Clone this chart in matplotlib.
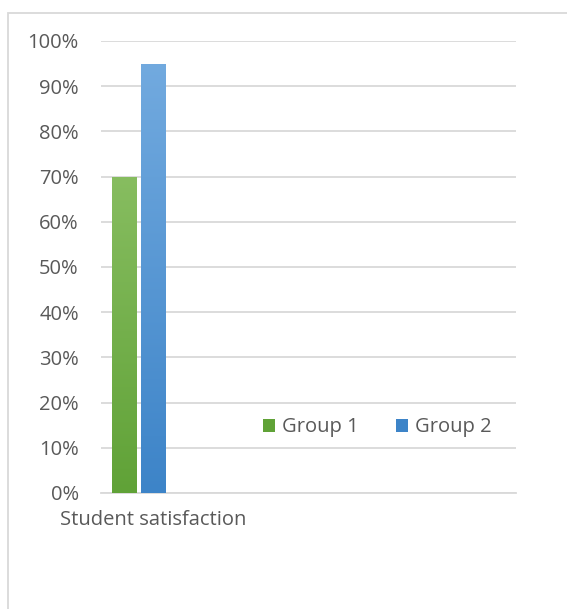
import numpy as np
import matplotlib
matplotlib.use("Agg")
import matplotlib.pyplot as plt
from matplotlib.patches import Rectangle
from matplotlib.ticker import PercentFormatter

categories = ["Student satisfaction"]
group1 = [0.70]
group2 = [0.95]
series_names = ["Group 1", "Group 2"]

plt.rcParams["font.family"] = ["Open Sans", "DejaVu Sans"]
text_color = "#595959"
grid_color = "#d9d9d9"
fs = 14.5

fig = plt.figure(figsize=(5.67, 6.09), dpi=100)
# light frame around the chart area
fig.patches.append(Rectangle((7.5 / 567, -0.1), 1.2, 1 - 12.5 / 609 + 0.1,
                             transform=fig.transFigure, fill=False,
                             edgecolor=grid_color, linewidth=1.3))

ax = fig.add_axes([101 / 567, 1 - 493 / 609, 415 / 567, 452 / 609])

x = np.arange(len(categories))
width = 0.235
offsets = [-0.275, 0.0]
colors = [("#87bd60", "#60a237"), ("#72aadf", "#3d84c8")]

for vals, off, (top_c, bot_c), name in zip([group1, group2], offsets, colors, series_names):
    bars = ax.bar(x + off, vals, width, color=bot_c, label=name, zorder=3,
                  linewidth=0)
    for b in bars:
        # vertical gradient, lighter at top
        grad = np.linspace(0, 1, 256).reshape(-1, 1)
        cmap = matplotlib.colors.LinearSegmentedColormap.from_list("g", [bot_c, top_c])
        im = ax.imshow(grad, cmap=cmap, aspect="auto", origin="lower",
                       extent=[b.get_x(), b.get_x() + b.get_width(), 0, b.get_height()],
                       zorder=4)
        im.set_clip_path(b)

ax.set_xlim(-0.5, 3.5)
ax.set_ylim(0, 1)
ax.set_yticks(np.arange(0, 1.01, 0.1))
ax.yaxis.set_major_formatter(PercentFormatter(1.0, decimals=0))
ax.set_xticks(x)
ax.set_xticklabels(categories)
ax.tick_params(length=0, labelsize=fs, colors=text_color)
ax.tick_params(axis="y", pad=16)
ax.tick_params(axis="x", pad=12)
ax.grid(axis="y", color=grid_color, linewidth=1.3, zorder=0)
for s in ["top", "right", "left"]:
    ax.spines[s].set_visible(False)
ax.spines["bottom"].set_color(grid_color)
ax.spines["bottom"].set_linewidth(1.3)

leg = ax.legend(loc="center", bbox_to_anchor=(0.665, 0.145), ncol=2, frameon=False,
                fontsize=fs, handlelength=0.6, handleheight=0.6, handletextpad=0.35,
                columnspacing=1.85)
for t in leg.get_texts():
    t.set_color(text_color)
for h, (top_c, bot_c) in zip(leg.legend_handles, colors):
    h.set_color(bot_c)

fig.savefig("out.png", dpi=100)
